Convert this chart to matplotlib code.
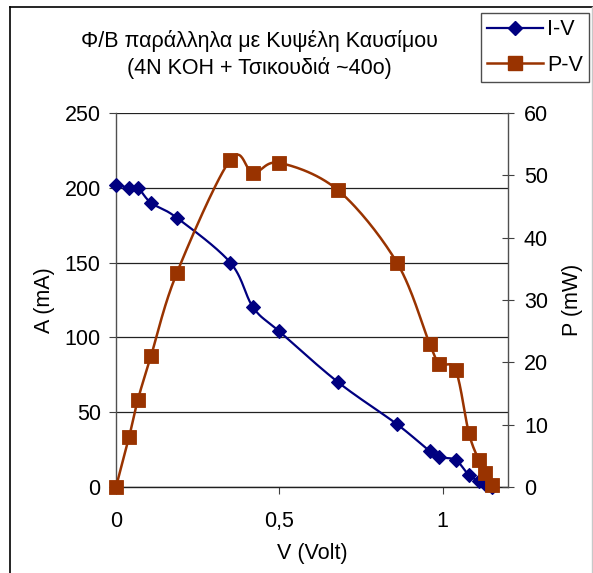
import numpy as np
import matplotlib
matplotlib.use("Agg")
import matplotlib.pyplot as plt
from matplotlib.lines import Line2D

plt.rcParams["font.family"] = ["Liberation Sans", "DejaVu Sans"]

# Measurements: photovoltaic module in parallel with a fuel cell
voltage = [0, 0.04, 0.067, 0.107, 0.186, 0.35, 0.42, 0.5, 0.68, 0.86,
           0.96, 0.99, 1.04, 1.08, 1.11, 1.13, 1.15]          # V (Volt)
current = [202, 200, 200, 190, 180, 150, 120, 104, 70, 42,
           24, 20, 18, 8, 4, 2, 0.3]                           # A (mA)
power = [0, 8, 14, 21, 34.3, 52.5, 50.4, 52, 47.6, 36,
         23, 19.8, 18.7, 8.7, 4.4, 2.2, 0.3]                   # P (mW)

x_ticks = [0, 0.5, 1]
x_tick_labels = ["0", "0,5", "1"]
left_ticks = [0, 50, 100, 150, 200, 250]
right_ticks = [0, 10, 20, 30, 40, 50, 60]

title_lines = ["Φ/Β παράλληλα με Κυψέλη Καυσίμου",
               "(4N KOH + Τσικουδιά ~40o)"]

BLUE = "#000080"
BROWN = "#993300"
W, H = 593, 573
FS = 15.5


def smooth(x, y, sx, sy, n=30):
    """Smoothed curve through the points (Catmull-Rom style Bezier)."""
    pts = np.column_stack([np.asarray(x, float) * sx, np.asarray(y, float) * sy])
    ext = np.vstack([pts[0], pts, pts[-1]])
    t = np.linspace(0, 1, n)[1:, None]
    out = [pts[:1]]
    for i in range(1, len(ext) - 2):
        p0, p1, p2, p3 = ext[i - 1], ext[i], ext[i + 1], ext[i + 2]
        c1 = p1 + (p2 - p0) / 6.0
        c2 = p2 - (p3 - p1) / 6.0
        seg = ((1 - t) ** 3) * p1 + 3 * (1 - t) ** 2 * t * c1 \
            + 3 * (1 - t) * t ** 2 * c2 + t ** 3 * p2
        out.append(seg)
    out = np.vstack(out)
    return out[:, 0] / sx, out[:, 1] / sy


fig = plt.figure(figsize=(W / 100, H / 100), dpi=100)
fig.patch.set_facecolor("white")

L, R, T, B = 116, 508, 113, 487
ax = fig.add_axes([L / W, 1 - B / H, (R - L) / W, (B - T) / H])
ax2 = ax.twinx()

xmax, ymax, pmax = 1.2, 250, 60
ax.set_xlim(0, xmax)
ax.set_ylim(0, ymax)
ax2.set_ylim(0, pmax)

# pixel scale per data unit, so the smoothing works in screen space
sx = (R - L) / xmax
sy1 = (B - T) / ymax
sy2 = (B - T) / pmax

# gridlines
ax.set_yticks(left_ticks)
ax.yaxis.grid(True, color="#222222", lw=0.9)
ax.set_axisbelow(True)

# I-V curve
cx, cy = smooth(voltage, current, sx, sy1)
ax.plot(cx, cy, color=BLUE, lw=1.6, zorder=3, clip_on=False)
ax.plot(voltage, current, ls="none", marker="D", ms=7, color=BLUE,
        mec=BLUE, mew=0.8, zorder=4, clip_on=False)

# P-V curve
px, py = smooth(voltage, power, sx, sy2)
ax2.plot(px, py, color=BROWN, lw=1.8, zorder=3, clip_on=False)
ax2.plot(voltage, power, ls="none", marker="s", ms=10, color=BROWN,
         mec=BROWN, mew=0.6, zorder=4, clip_on=False)

# axes styling
for a in (ax, ax2):
    for s in a.spines.values():
        s.set_visible(False)
ax.spines["left"].set_visible(True)
ax.spines["left"].set_color("#505050")
ax.spines["bottom"].set_visible(True)
ax.spines["bottom"].set_color("#202020")
ax2.spines["right"].set_visible(True)
ax2.spines["right"].set_color("#505050")
for s in ("left", "bottom"):
    ax.spines[s].set_linewidth(1.0)
ax2.spines["right"].set_linewidth(1.0)

ax.set_xticks(x_ticks)
ax.set_xticklabels(x_tick_labels)
ax2.set_yticks(right_ticks)

ax.tick_params(axis="x", direction="out", length=5, width=0.8,
               color="#404040", pad=12, labelsize=FS)
ax.tick_params(axis="y", direction="out", length=5, width=0.8,
               color="#404040", pad=6, labelsize=FS)
ax2.tick_params(axis="y", direction="inout", length=9, width=0.8,
                color="#404040", pad=7, labelsize=FS)

ax.set_xlabel("V (Volt)", fontsize=FS, labelpad=8)
ax.set_ylabel("A (mA)", fontsize=FS, labelpad=7)
ax2.set_ylabel("P (mW)", fontsize=FS, labelpad=10)

# title
fig.text(259 / W, 1 - 41 / H, title_lines[0], ha="center", va="center",
         fontsize=FS)
fig.text(259 / W, 1 - 68 / H, title_lines[1], ha="center", va="center",
         fontsize=FS)

# legend
handles = [
    Line2D([], [], color=BLUE, lw=1.6, marker="D", ms=7, mec=BLUE),
    Line2D([], [], color=BROWN, lw=1.8, marker="s", ms=10, mec=BROWN),
]
leg = fig.legend(handles, ["I-V", "P-V"], loc="upper left",
                 bbox_to_anchor=(481 / W, 1 - 13 / H), borderaxespad=0,
                 fontsize=FS, handlelength=2.56, handletextpad=0.2,
                 borderpad=0.3, labelspacing=0.66, fancybox=False,
                 frameon=True, numpoints=1)
leg.get_frame().set_edgecolor("#202020")
leg.get_frame().set_linewidth(1.0)

# chart border
fig.add_artist(Line2D([10 / W, 10 / W], [0, 1 - 7 / H], color="black",
                      lw=1.2, transform=fig.transFigure))
fig.add_artist(Line2D([10 / W, 1], [1 - 7 / H, 1 - 7 / H], color="black",
                      lw=1.2, transform=fig.transFigure))
fig.add_artist(Line2D([592 / W, 592 / W], [0, 1 - 7 / H], color="#c8c8c8",
                      lw=1.0, transform=fig.transFigure))

fig.savefig("out.png", dpi=100)
